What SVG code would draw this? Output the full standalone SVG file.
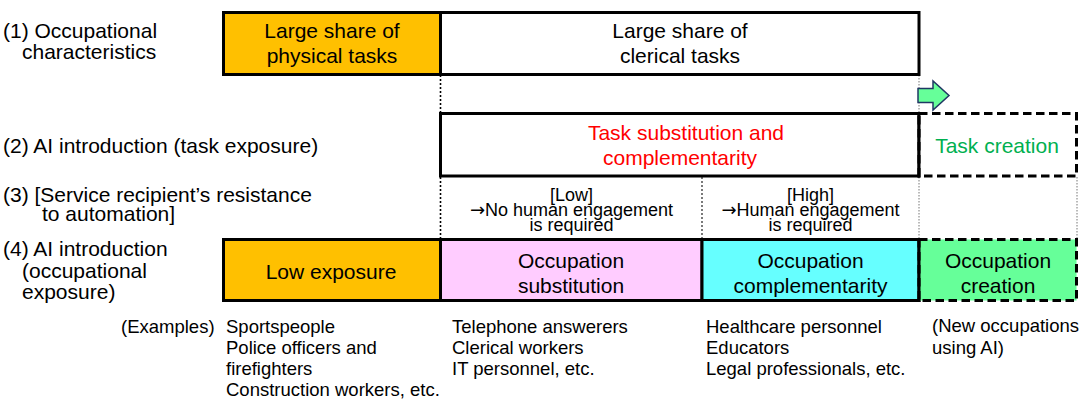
<svg xmlns="http://www.w3.org/2000/svg" width="1082" height="399" viewBox="0 0 1082 399">
  <defs>
    <style>
      text { font-family: "Liberation Sans", Arial, sans-serif; fill: #000; }
      .lbl { font-size: 21px; }
      .box { font-size: 21px; text-anchor: middle; }
      .small { font-size: 18px; text-anchor: middle; }
      .arr { font-family: "DejaVu Sans", sans-serif; }
      .ex { font-size: 18.5px; }
      .solid { stroke: #000; stroke-width: 3; }
      .dash { stroke: #000; stroke-width: 3; stroke-dasharray: 8.5 4.5; }
      .dotK { stroke: #000; stroke-width: 1.6; stroke-dasharray: 2 2; fill: none; }
      .dotG { stroke: #777; stroke-width: 1; stroke-dasharray: 1.5 1.5; fill: none; }
    </style>
  </defs>
  <rect width="1082" height="399" fill="#fff"/>

  <!-- row labels -->
  <g id="labels">
    <text class="lbl" x="3" y="37.5">(1) Occupational</text>
    <text class="lbl" x="22" y="58.5">characteristics</text>
    <text class="lbl" x="3" y="153">(2) AI introduction (task exposure)</text>
    <text class="lbl" x="3" y="201.5">(3) [Service recipient’s resistance</text>
    <text class="lbl" x="42" y="220.5">to automation]</text>
    <text class="lbl" x="3" y="256">(4) AI introduction</text>
    <text class="lbl" x="22" y="277.5">(occupational</text>
    <text class="lbl" x="22" y="299">exposure)</text>
  </g>

  <!-- guide lines between rows -->
  <g id="connectors">
    <line class="dotK" x1="440.5" y1="75" x2="440.5" y2="113"/>
    <line class="dotG" x1="919" y1="75" x2="919" y2="113"/>
    <line class="dotK" x1="440.5" y1="177" x2="440.5" y2="239"/>
    <line class="dotK" x1="702" y1="177" x2="702" y2="239" style="stroke:#333;stroke-width:1.3"/>
    <line class="dotG" x1="919" y1="177" x2="919" y2="239"/>
    <line class="dotG" x1="1077" y1="177" x2="1077" y2="239"/>
    <path d="M918,88.5 H933 V81 L949,95.5 L933,110 V102.5 H918 Z" fill="#66FF99" stroke="#203864" stroke-width="1.5" stroke-linejoin="miter"/>
  </g>

  <!-- (1) occupational characteristics -->
  <g id="physical-tasks">
    <rect x="223.5" y="12.5" width="217" height="62" fill="#FFC000" class="solid"/>
    <text class="box" x="332" y="37.5">Large share of</text>
    <text class="box" x="332" y="62.5">physical tasks</text>
  </g>
  <g id="clerical-tasks">
    <rect x="440.5" y="12.5" width="478.5" height="62" fill="#fff" class="solid"/>
    <text class="box" x="680" y="37.5">Large share of</text>
    <text class="box" x="680" y="62.5">clerical tasks</text>
  </g>

  <!-- (2) task exposure -->
  <g id="task-substitution">
    <rect x="440.5" y="113.5" width="478.5" height="62.5" fill="#fff" class="solid"/>
    <text class="box" x="686" y="139.5" style="fill:#FF0000">Task substitution and</text>
    <text class="box" x="680" y="164.5" style="fill:#FF0000">complementarity</text>
  </g>
  <g id="task-creation">
    <rect x="919" y="113.5" width="157.5" height="62.5" fill="#fff" class="dash"/>
    <line x1="919" y1="112" x2="919" y2="177.5" class="solid"/>
    <text class="box" x="997" y="153" style="fill:#00B050">Task creation</text>
  </g>

  <!-- (3) resistance to automation -->
  <g id="resistance-low">
    <text class="small" x="571.5" y="201">[Low]</text>
    <text class="small" x="571.5" y="216"><tspan class="arr">→</tspan>No human engagement</text>
    <text class="small" x="571.5" y="231">is required</text>
  </g>
  <g id="resistance-high">
    <text class="small" x="810.5" y="201">[High]</text>
    <text class="small" x="810.5" y="216"><tspan class="arr">→</tspan>Human engagement</text>
    <text class="small" x="810.5" y="231">is required</text>
  </g>

  <!-- (4) occupational exposure -->
  <g id="low-exposure">
    <rect x="223.5" y="239.5" width="217" height="61" fill="#FFC000" class="solid"/>
    <text class="box" x="331" y="279">Low exposure</text>
  </g>
  <g id="occupation-substitution">
    <rect x="440.5" y="239.5" width="261.5" height="61" fill="#FFCCFF" class="solid"/>
    <text class="box" x="571" y="268">Occupation</text>
    <text class="box" x="571" y="293">substitution</text>
  </g>
  <g id="occupation-complementarity">
    <rect x="702" y="239.5" width="217" height="61" fill="#66FFFF" class="solid"/>
    <text class="box" x="810.5" y="268">Occupation</text>
    <text class="box" x="810.5" y="293">complementarity</text>
  </g>
  <g id="occupation-creation">
    <rect x="919" y="239.5" width="157.5" height="61" fill="#66FF99" class="dash"/>
    <line x1="919" y1="238" x2="919" y2="302" class="solid"/>
    <text class="box" x="998" y="268">Occupation</text>
    <text class="box" x="998" y="293">creation</text>
  </g>

  <!-- examples -->
  <g id="examples">
    <text class="ex" x="121" y="332.5">(Examples)</text>
    <text class="ex" x="226" y="332.5">Sportspeople</text>
    <text class="ex" x="226" y="353.8">Police officers and</text>
    <text class="ex" x="226" y="375">firefighters</text>
    <text class="ex" x="226" y="396">Construction workers, etc.</text>
    <text class="ex" x="452" y="332.5">Telephone answerers</text>
    <text class="ex" x="452" y="353.8">Clerical workers</text>
    <text class="ex" x="452" y="375">IT personnel, etc.</text>
    <text class="ex" x="706" y="332.5">Healthcare personnel</text>
    <text class="ex" x="706" y="353.8">Educators</text>
    <text class="ex" x="706" y="375">Legal professionals, etc.</text>
    <text class="ex" x="932" y="332">(New occupations</text>
    <text class="ex" x="932" y="353.5">using AI)</text>
  </g>
</svg>
